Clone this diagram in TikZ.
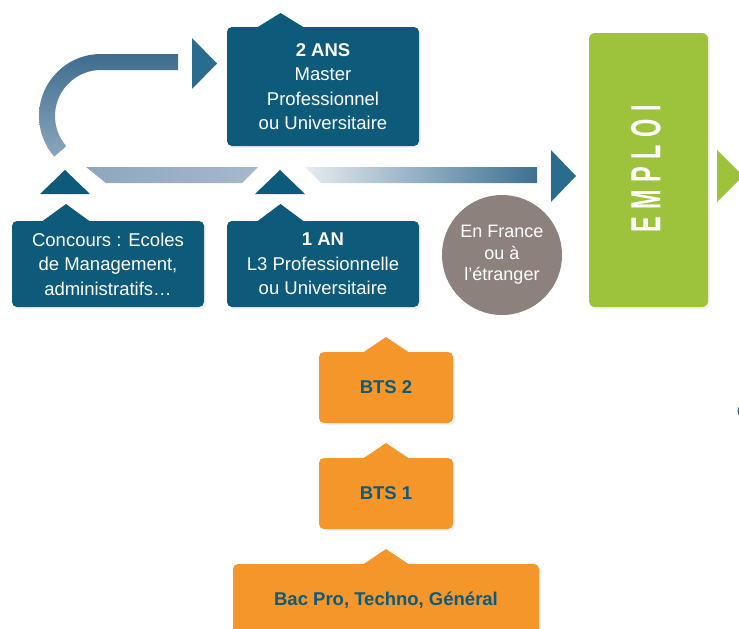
\documentclass[tikz,border=0pt]{standalone}
\usepackage{fontspec}
\usepackage{graphicx}
\setmainfont{Liberation Sans}
\usetikzlibrary{calc,shadows}
\definecolor{boxblue}{HTML}{0D5A7B}
\definecolor{arrowblue}{HTML}{2A6C8E}
\definecolor{emgreen}{HTML}{9DC33C}
\definecolor{btsorange}{HTML}{F5962A}
\definecolor{taupe}{HTML}{8D817D}
\definecolor{arcdark}{HTML}{3F6D8E}
\definecolor{arclight}{HTML}{8BA6BD}
\definecolor{barA}{HTML}{8EA6BD}
\definecolor{barB}{HTML}{A6B9CB}
\definecolor{barC}{HTML}{E6ECF1}
\definecolor{barD}{HTML}{3D7091}
\begin{document}
\begin{tikzpicture}[x=1pt,y=-1pt,
  softshadow/.style={drop shadow={opacity=0.10, shadow xshift=2pt, shadow yshift=-2pt}},
  bluebox/.style={rectangle, rounded corners=5pt, fill=boxblue, text=white,
    minimum width=192pt, align=center, inner sep=0pt, outer sep=0pt,
    font=\fontsize{18.5}{24.5}\selectfont, softshadow},
  btsbox/.style={rectangle, rounded corners=5pt, fill=btsorange, text=boxblue,
    minimum width=134pt, minimum height=71pt, inner sep=0pt, outer sep=0pt,
    font=\bfseries\fontsize{18.5}{22}\selectfont, softshadow},
  bluetri/.style={fill=boxblue},
  headblue/.style={fill=arrowblue}]
\useasboundingbox (0,0) rectangle (739,629);

% curved arrow
\shade[top color=arcdark, bottom color=arclight]
  (178,54) -- (101,54) arc[start angle=270, end angle=139, radius=62]
  -- ($(101,116)+(139:46)$) arc[start angle=139, end angle=270, radius=46]
  -- (178,70) -- cycle;
\fill[headblue] (192,38) -- (217,63.5) -- (192,89) -- cycle;

% horizontal bar
\shade[left color=barA, right color=barB] (86,167) -- (258,167) -- (242,183) -- (106,183) -- cycle;
\shade[left color=barC, right color=barD] (305,167) -- (537,167) -- (537,183) -- (321,183) -- cycle;
\fill[headblue] (551,150) -- (576,176) -- (551,202) -- cycle;

% triangles
\fill[bluetri] (40,194) -- (65,170) -- (90,194) -- cycle;
\fill[bluetri] (255,194) -- (280,170) -- (305,194) -- cycle;

% blue boxes
\node[bluebox, minimum height=119pt] (master) at (323,86.5)
  {\textbf{2 ANS}\\Master\\Professionnel\\ou Universitaire};
\node[bluebox, minimum height=86pt] (concours) at (108,264)
  {Concours : Ecoles\\de Management,\\administratifs…};
\node[bluebox, minimum height=86pt] (licence) at (323,264)
  {\textbf{1 AN}\\L3 Professionnelle\\ou Universitaire};
\fill[boxblue] ($(master.north west)+(30,0.5)$) -- ++(23.5,-14.5) -- ++(23.5,14.5) -- cycle;
\fill[boxblue] ($(concours.north west)+(30,0.5)$) -- ++(24,-17.5) -- ++(24,17.5) -- cycle;
\fill[boxblue] ($(licence.north west)+(30,0.5)$) -- ++(23.5,-17.5) -- ++(23.5,17.5) -- cycle;

% circle
\node[circle, fill=taupe, minimum size=120pt, inner sep=0pt, text=white, align=center,
  font=\fontsize{18}{21.5}\selectfont] (abroad) at (502,255) {En France\\ou à\\l’étranger};

% emploi
\node[rectangle, rounded corners=6pt, fill=emgreen, minimum width=119pt, minimum height=274pt,
  inner sep=0pt, softshadow] (emploi) at (648.5,170) {};
\node[rotate=90, text=white, inner sep=0pt] (emploitext) at (646,169)
  {\scalebox{0.56}[1]{\fontsize{42}{42}\selectfont\bfseries E\kern13.5pt M\kern13.5pt P\kern13.5pt L\kern13.5pt O\kern13.5pt I}};
\fill[emgreen] (717,150) -- (743,176) -- (717,202) -- cycle;
\fill[arrowblue] (745,411) circle (7.5);

% orange boxes
\node[btsbox] (bts2) at (386,387.5) {BTS 2};
\node[btsbox] (bts1) at (386,493.5) {BTS 1};
\node[btsbox, minimum width=306pt, minimum height=72pt] (bac) at (386,600) {Bac Pro, Techno, Général};
\foreach \b in {bts2,bts1,bac}
  \fill[btsorange] ($(\b.north)+(-23,0.5)$) -- ++(23,-15.5) -- ++(23,15.5) -- cycle;
\end{tikzpicture}
\end{document}
